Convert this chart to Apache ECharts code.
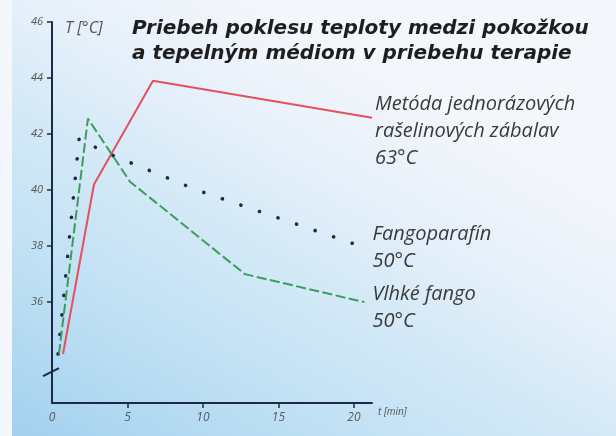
<!DOCTYPE html>
<html>
<head>
<meta charset="utf-8">
<script src="https://cdn.jsdelivr.net/npm/echarts@6/dist/echarts.min.js"></script>
<style>
html, body { margin: 0; padding: 0; }
#chart { width: 616px; height: 436px; }
</style>
</head>
<body>
<div id="chart"></div>
<script>
// hodnoty odčítané z grafu
var xTicks = [0, 5, 10, 15, 20];
var yTicks = [36, 38, 40, 42, 44, 46];
var seriesNames = ['Metóda jednorázových\nrašelinových zábalav\n63°C', 'Fangoparafín\n50°C', 'Vlhké fango\n50°C'];
var raselina = [[0.73, 34.15], [2.78, 40.2], [6.69, 43.9], [21.2, 42.58]];
var fangoparafin = [[0.4, 34.15], [1.8, 41.85], [3.3, 41.4], [9.6, 40.0], [19.9, 38.1]];
var vlhkeFango = [[0.46, 34.15], [2.38, 42.55], [5.17, 40.3], [12.78, 37.0], [20.7, 36.0]];

var axisColor = '#1c2b45';
var labelFont = {
	fontFamily: 'Open Sans',
	fontStyle: 'italic',
	fontSize: 20,
	color: '#3a3a3a',
	lineHeight: 27
};

var myChart = echarts.init(document.getElementById('chart'));
var option = {
	backgroundColor: {
		type: 'linear',
		x: 0, y: 1, x2: 0.4, y2: 0,
		colorStops: [
			{ offset: 0, color: '#a2d0ef' },
			{ offset: 0.32, color: '#bfe0f4' },
			{ offset: 0.61, color: '#d6eaf7' },
			{ offset: 0.78, color: '#e6f0fa' },
			{ offset: 1, color: '#f3f6fb' }
		]
	},
	animation: false,
	title: {
		text: 'Priebeh poklesu teploty medzi pokožkou\na tepelným médiom v priebehu terapie',
		left: 132,
		top: 16,
		padding: 0,
		textStyle: {
			fontFamily: 'DejaVu Sans',
			fontStyle: 'italic',
			fontWeight: 'bold',
			fontSize: 20,
			lineHeight: 25,
			color: '#1e1e1e'
		}
	},
	grid: { left: 52, right: 244, top: 22, bottom: 33 },
	xAxis: {
		type: 'value',
		min: 0,
		max: 21.2,
		name: 't [min]',
		nameLocation: 'end',
		nameGap: 6,
		nameTextStyle: {
			fontFamily: 'Open Sans', fontStyle: 'italic', fontSize: 10, color: '#555',
			verticalAlign: 'top', padding: [4, 0, 0, 0]
		},
		splitLine: { show: false },
		axisLine: { lineStyle: { color: axisColor, width: 2 } },
		axisTick: { customValues: xTicks.slice(1), length: 5, lineStyle: { color: axisColor, width: 1.5 } },
		axisLabel: {
			customValues: xTicks,
			margin: 9,
			fontFamily: 'Open Sans', fontStyle: 'italic', fontSize: 12, color: '#5a5a5a'
		}
	},
	yAxis: {
		type: 'value',
		min: 32.4,
		max: 46,
		name: 'T [°C]',
		nameLocation: 'end',
		nameGap: -6,
		nameTextStyle: {
			fontFamily: 'Open Sans', fontStyle: 'italic', fontSize: 16, color: '#555',
			align: 'left', verticalAlign: 'middle', padding: [0, 0, 0, 13]
		},
		splitLine: { show: false },
		axisLine: { lineStyle: { color: axisColor, width: 2 } },
		axisTick: { customValues: yTicks, length: 5, lineStyle: { color: axisColor, width: 1.5 } },
		axisLabel: {
			customValues: yTicks,
			margin: 9,
			fontFamily: 'Open Sans', fontStyle: 'italic', fontSize: 11, color: '#555'
		}
	},
	series: [
		{
			name: seriesNames[0],
			type: 'line',
			data: raselina,
			showSymbol: false,
			lineStyle: { color: '#e4505e', width: 2 },
			endLabel: {
				show: true,
				formatter: seriesNames[0],
				distance: 0,
				offset: [3, 13],
				...labelFont
			}
		},
		{
			name: seriesNames[1],
			type: 'line',
			data: fangoparafin,
			showSymbol: false,
			lineStyle: { color: '#1f2b45', width: 3.6, type: [0.1, 19.5], cap: 'round' },
			endLabel: {
				show: true,
				formatter: seriesNames[1],
				distance: 0,
				offset: [20, 4],
				...labelFont
			}
		},
		{
			name: seriesNames[2],
			type: 'line',
			data: vlhkeFango,
			showSymbol: false,
			lineStyle: { color: '#3c9c5c', width: 2, type: [10, 3.5] },
			endLabel: {
				show: true,
				formatter: seriesNames[2],
				distance: 0,
				offset: [8, 6],
				...labelFont
			}
		}
	]
};
myChart.setOption(option);

// biely okraj vľavo a značka prerušenia osi
var br = myChart.convertToPixel({ gridIndex: 0 }, [0, 33.5]);
myChart.setOption({
	graphic: [
		{
			type: 'rect',
			shape: { x: 0, y: 0, width: 12, height: 436 },
			style: { fill: '#f4f7fb' },
			z: 0
		},
		{
			type: 'line',
			shape: { x1: br[0] - 9, y1: br[1] + 4, x2: br[0] + 7, y2: br[1] - 4 },
			style: { stroke: axisColor, lineWidth: 2 },
			z: 10
		}
	]
});
</script>
</body>
</html>
